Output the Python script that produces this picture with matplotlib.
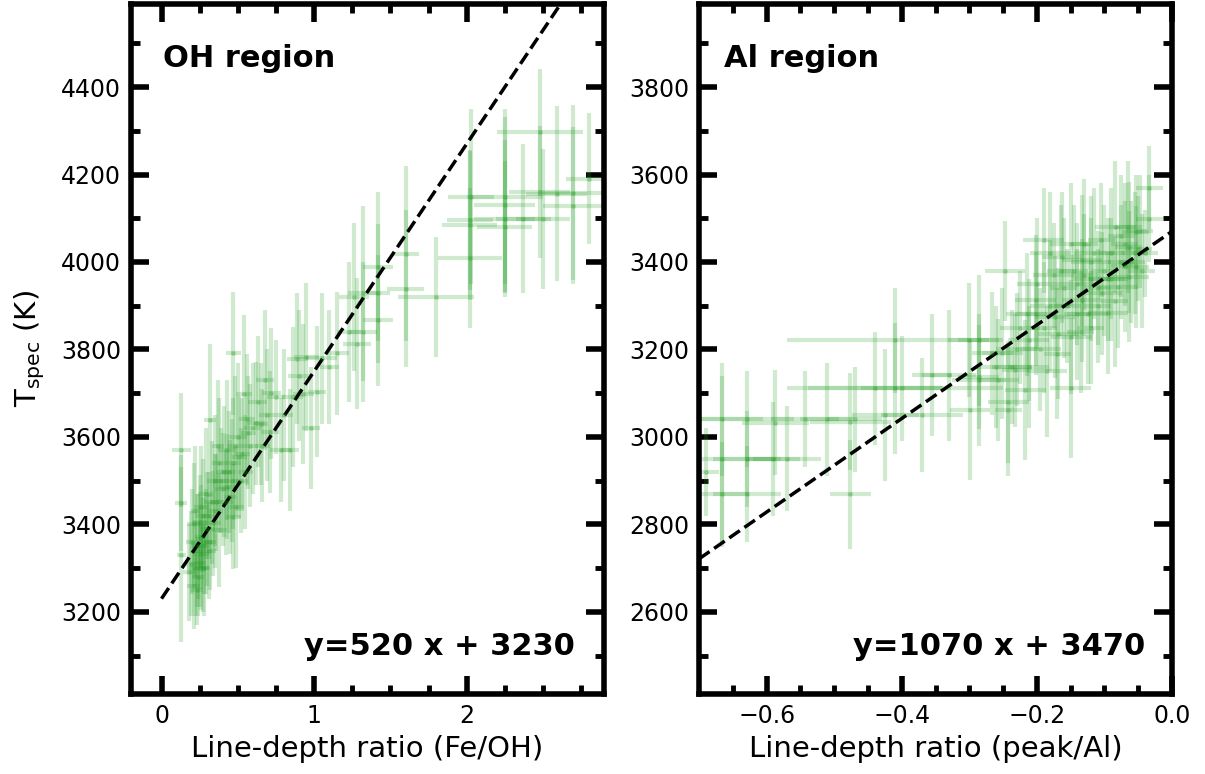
import numpy as np
import matplotlib
matplotlib.use("Agg")
import matplotlib.pyplot as plt

# OH region: line-depth ratio Fe/OH vs T_spec
oh_x = [0.13, 0.13, 0.13, 0.20, 0.22, 0.24, 0.25, 0.26, 0.26, 0.25, 0.26, 0.28, 0.30,
        0.31, 0.29, 0.32, 0.34, 0.36, 0.38, 0.40, 0.41, 0.43, 0.45, 0.47, 0.49, 0.43,
        0.47, 0.51, 0.52, 0.55, 0.50, 0.54, 0.32, 0.37, 0.22, 0.58, 0.60, 0.62, 0.66,
        0.68, 0.69, 0.71, 0.75, 0.78, 0.84, 0.80, 0.86, 0.89, 0.93, 0.95, 1.02, 0.98,
        0.47, 1.05, 1.15, 1.23, 1.26, 1.28, 1.32, 1.32, 1.42, 1.42, 1.42, 1.60, 1.60,
        1.80, 2.02, 2.03, 2.02, 2.02, 2.25, 2.25, 2.25, 2.25, 2.37, 2.48, 2.48, 2.50,
        2.59, 2.70, 2.70, 2.80, 1.10, 0.18, 0.21, 0.24, 0.28, 0.35, 0.39, 0.44, 0.57,
        0.19, 0.21, 0.23, 0.27, 0.27, 0.29, 0.31, 0.33, 0.35, 0.38, 0.42, 0.46, 0.48,
        0.53, 0.56, 0.63, 0.65, 0.72, 0.90, 0.23]
oh_y = [3570, 3448, 3330, 3360, 3300, 3280, 3311, 3333, 3371, 3402, 3440, 3350, 3390,
        3420, 3470, 3360, 3402, 3450, 3387, 3480, 3520, 3486, 3463, 3417, 3440, 3570,
        3540, 3554, 3500, 3520, 3600, 3699, 3638, 3580, 3430, 3580, 3620, 3631, 3580,
        3730, 3650, 3611, 3691, 3570, 3570, 3650, 3691, 3779, 3699, 3783, 3703, 3620,
        3791, 3780, 3791, 3840, 3920, 3813, 3928, 3840, 3989, 3928, 3867, 4019, 3939,
        3920, 4010, 4149, 4095, 4084, 4149, 4131, 4099, 4080, 4099, 4297, 4160, 4099,
        4156, 4158, 4129, 4190, 3760, 3290, 3260, 3350, 3300, 3430, 3500, 3520, 3610,
        3310, 3400, 3340, 3300, 3420, 3360, 3340, 3450, 3500, 3540, 3450, 3500, 3580,
        3560, 3640, 3680, 3630, 3700, 3740, 3250]
oh_xerr = [0.06, 0.04, 0.03, 0.04, 0.05, 0.04, 0.04, 0.05, 0.04, 0.05, 0.05, 0.04, 0.05,
           0.04, 0.05, 0.04, 0.05, 0.04, 0.05, 0.05, 0.05, 0.05, 0.04, 0.05, 0.05, 0.06,
           0.05, 0.05, 0.05, 0.05, 0.06, 0.05, 0.04, 0.04, 0.03, 0.05, 0.06, 0.06, 0.05,
           0.06, 0.05, 0.06, 0.06, 0.07, 0.06, 0.06, 0.07, 0.07, 0.07, 0.08, 0.06, 0.06,
           0.05, 0.10, 0.08, 0.08, 0.10, 0.09, 0.10, 0.09, 0.10, 0.08, 0.10, 0.09, 0.12,
           0.25, 0.21, 0.15, 0.15, 0.18, 0.25, 0.20, 0.20, 0.18, 0.18, 0.28, 0.20, 0.18,
           0.20, 0.20, 0.20, 0.15, 0.06, 0.04, 0.04, 0.05, 0.04, 0.05, 0.05, 0.05, 0.05,
           0.04, 0.04, 0.04, 0.04, 0.05, 0.04, 0.05, 0.05, 0.05, 0.05, 0.05, 0.05, 0.05,
           0.05, 0.05, 0.06, 0.05, 0.06, 0.07, 0.04]
oh_yerr = [130, 110, 200, 120, 110, 90, 100, 130, 120, 110, 140, 110, 130,
           100, 150, 110, 120, 110, 130, 130, 150, 120, 130, 120, 140, 160,
           150, 140, 120, 130, 170, 180, 175, 150, 150, 140, 150, 140, 130,
           160, 150, 140, 130, 120, 140, 150, 160, 150, 160, 170, 150, 140,
           140, 150, 140, 160, 170, 150, 200, 160, 170, 160, 150, 200, 180,
           137, 160, 200, 160, 170, 200, 200, 180, 150, 170, 145, 150, 160,
           200, 200, 180, 150, 130, 110, 100, 120, 110, 130, 120, 140, 130,
           120, 140, 130, 100, 130, 120, 110, 140, 150, 150, 120, 140, 160,
           130, 150, 150, 140, 150, 150, 80]

# Al region: line-depth ratio peak/Al vs T_spec
al_x = [-0.666, -0.629, -0.587, -0.543, -0.511, -0.476, -0.469, -0.666, -0.629, -0.590,
        -0.570, -0.690, -0.666, -0.629, -0.476, -0.439, -0.410, -0.400, -0.424, -0.370,
        -0.410, -0.355, -0.330, -0.299, -0.286, -0.257, -0.242, -0.242, -0.217, -0.212,
        -0.232, -0.150, -0.301, -0.286, -0.266, -0.251, -0.286, -0.247, -0.237, -0.212,
        -0.202, -0.202, -0.190, -0.190, -0.180, -0.173, -0.168, -0.163, -0.160, -0.149,
        -0.145, -0.140, -0.133, -0.133, -0.130, -0.125, -0.120, -0.115, -0.110, -0.104,
        -0.100, -0.095, -0.090, -0.084, -0.080, -0.075, -0.070, -0.064, -0.064, -0.060,
        -0.054, -0.054, -0.050, -0.045, -0.040, -0.034, -0.034, -0.175, -0.155, -0.195,
        -0.225, -0.120, -0.110, -0.090, -0.070,
        -0.200, -0.180, -0.165, -0.150, -0.140, -0.130, -0.120, -0.105, -0.095, -0.085,
        -0.075, -0.065, -0.055, -0.048, -0.215, -0.230, -0.260, -0.185, -0.170, -0.135]
al_y = [3040, 3040, 3032, 3040, 3040, 3035, 3040, 2950, 2950, 2950,
        2950, 2920, 2869, 2869, 2869, 3111, 3111, 3111, 3050, 3050,
        3221, 3141, 3141, 3061, 3130, 3130, 3080, 3061, 3107, 3160,
        3152, 3111, 3221, 3221, 3191, 3191, 3137, 3379, 3160, 3221,
        3312, 3282, 3450, 3250, 3300, 3274, 3236, 3411, 3340, 3229,
        3380, 3350, 3404, 3312, 3440, 3280, 3360, 3420, 3340, 3328,
        3380, 3283, 3420, 3480, 3343, 3400, 3440, 3434, 3366, 3400,
        3468, 3389, 3430, 3380, 3420, 3570, 3499, 3370, 3300, 3200,
        3250, 3250, 3300, 3360, 3390,
        3350, 3420, 3380, 3440, 3280, 3370, 3400, 3450, 3360, 3310,
        3460, 3480, 3420, 3470, 3280, 3200, 3160, 3150, 3190, 3240]
al_xerr = [0.06, 0.07, 0.05, 0.05, 0.04, 0.06, 0.04, 0.08, 0.05, 0.04,
           0.05, 0.02, 0.04, 0.05, 0.03, 0.10, 0.16, 0.06, 0.05, 0.06,
           0.16, 0.03, 0.04, 0.03, 0.04, 0.03, 0.03, 0.02, 0.03, 0.03,
           0.02, 0.03, 0.03, 0.03, 0.03, 0.03, 0.03, 0.03, 0.03, 0.03,
           0.03, 0.03, 0.03, 0.02, 0.03, 0.03, 0.03, 0.03, 0.02, 0.03,
           0.02, 0.03, 0.03, 0.03, 0.02, 0.03, 0.03, 0.03, 0.02, 0.03,
           0.02, 0.03, 0.02, 0.03, 0.03, 0.02, 0.02, 0.02, 0.03, 0.02,
           0.02, 0.02, 0.02, 0.02, 0.02, 0.02, 0.02, 0.03, 0.02, 0.03,
           0.03, 0.02, 0.02, 0.02, 0.02,
           0.03, 0.03, 0.02, 0.03, 0.02, 0.02, 0.03, 0.02, 0.03, 0.02,
           0.02, 0.02, 0.02, 0.02, 0.03, 0.03, 0.03, 0.03, 0.02, 0.02]
al_yerr = [130, 110, 120, 110, 130, 110, 120, 190, 110, 130,
           120, 100, 120, 110, 125, 130, 150, 120, 150, 130,
           120, 140, 150, 160, 150, 140, 140, 150, 160, 140,
           130, 160, 130, 150, 140, 150, 120, 115, 130, 140,
           150, 140, 120, 150, 150, 140, 150, 150, 160, 130,
           150, 140, 150, 140, 150, 160, 140, 150, 130, 140,
           150, 140, 150, 150, 140, 130, 140, 150, 150, 140,
           130, 140, 120, 130, 100, 95, 100, 120, 130, 140,
           130, 130, 130, 140, 150,
           150, 140, 150, 140, 150, 140, 150, 130, 140, 150,
           140, 150, 140, 130, 140, 130, 140, 150, 150, 140]

fits = [(520, 3230), (1070, 3470)]

fig = plt.figure(figsize=(12.05, 7.74), dpi=100)
ax1 = fig.add_axes([131 / 1205, 1 - 694 / 774, 473 / 1205, 690 / 774])
ax2 = fig.add_axes([699 / 1205, 1 - 694 / 774, 473 / 1205, 690 / 774])

ebkw = dict(fmt='o', ms=2.5, color='tab:green', alpha=0.22, elinewidth=3, capsize=0)
ax1.errorbar(oh_x, oh_y, xerr=oh_xerr, yerr=oh_yerr, **ebkw)
ax2.errorbar(al_x, al_y, xerr=al_xerr, yerr=al_yerr, **ebkw)

xx1 = np.array([0, 2.9])
ax1.plot(xx1, fits[0][0] * xx1 + fits[0][1], 'k--', lw=2.5)
xx2 = np.array([-0.7, 0.0])
ax2.plot(xx2, fits[1][0] * xx2 + fits[1][1], 'k--', lw=2.5)

ax1.set_xlim(-0.2, 2.9)
ax1.set_ylim(3012, 4590)
ax2.set_xlim(-0.7, 0.0)
ax2.set_ylim(2412, 3990)

ax1.set_xticks([0, 1, 2])
ax1.set_xticks(np.arange(-0.0, 2.9, 0.25), minor=True)
ax1.set_yticks([3200, 3400, 3600, 3800, 4000, 4200, 4400])
ax1.set_yticks(np.arange(3100, 4600, 100), minor=True)
ax2.set_xticks([-0.6, -0.4, -0.2, 0.0])
ax2.set_xticks(np.arange(-0.65, 0.0, 0.05), minor=True)
ax2.set_yticks([2600, 2800, 3000, 3200, 3400, 3600, 3800])
ax2.set_yticks(np.arange(2500, 4000, 100), minor=True)

for ax in (ax1, ax2):
    for s in ax.spines.values():
        s.set_linewidth(4)
    ax.tick_params(which='both', direction='in', top=True, right=True, labelsize=17)
    ax.tick_params(which='major', length=13, width=4, pad=7)
    ax.tick_params(which='minor', length=6.5, width=3.5)

ax1.set_xlabel('Line-depth ratio (Fe/OH)', fontsize=21, labelpad=5)
ax2.set_xlabel('Line-depth ratio (peak/Al)', fontsize=21, labelpad=5)
ax1.set_ylabel(r'T$_{\rm spec}$ (K)', fontsize=21, labelpad=10)

ax1.text(0.068, 0.909, 'OH region', transform=ax1.transAxes, fontsize=22,
         fontweight='bold', va='baseline', ha='left')
ax2.text(0.053, 0.909, 'Al region', transform=ax2.transAxes, fontsize=22,
         fontweight='bold', va='baseline', ha='left')
ax1.text(0.939, 0.0565, 'y=520 x + 3230', transform=ax1.transAxes, fontsize=22,
         fontweight='bold', va='baseline', ha='right')
ax2.text(0.943, 0.0565, 'y=1070 x + 3470', transform=ax2.transAxes, fontsize=22,
         fontweight='bold', va='baseline', ha='right')

fig.savefig('out.png', dpi=100)
